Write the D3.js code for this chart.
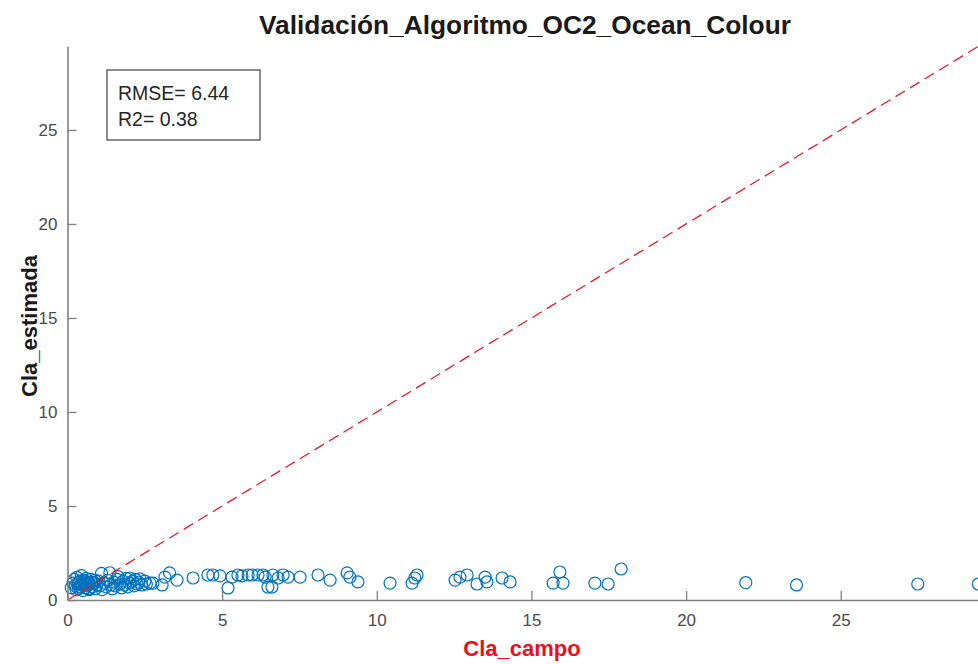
<!DOCTYPE html>
<html>
<head>
<meta charset="utf-8">
<script src="https://cdn.jsdelivr.net/npm/d3@7"></script>
<style>
  html, body { margin: 0; padding: 0; background: #fff; }
  svg { display: block; font-family: "Liberation Sans", Arial, Helvetica, sans-serif; }
</style>
</head>
<body>
<svg id="chart" width="978" height="664"></svg>
<script>
// ---- Data ----
const titleText = "Validación_Algoritmo_OC2_Ocean_Colour";
const xLabel = "Cla_campo";
const yLabel = "Cla_estimada";
const statsLines = ["RMSE= 6.44", "R2= 0.38"];
const axisMax = 29.45;
const xTicks = [0, 5, 10, 15, 20, 25];
const yTicks = [0, 5, 10, 15, 20, 25];

// field chlorophyll (x) and estimated chlorophyll (y)
const claCampo = [
  0.12,0.18,0.22,0.25,0.28,0.30,0.33,0.36,0.40,0.42,0.45,0.48,0.50,0.52,0.55,0.58,0.60,0.63,0.66,0.70,
  0.72,0.75,0.80,0.85,0.90,0.95,1.00,1.05,1.10,1.12,1.18,1.25,1.30,1.37,1.40,1.45,1.50,1.55,1.60,1.63,
  1.70,1.75,1.80,1.85,1.90,1.95,2.00,2.02,2.10,2.15,2.20,2.25,2.30,2.34,2.40,2.50,2.55,2.67,
  0.35,0.38,0.44,0.56,0.62,0.68,0.78,0.88,
  2.76,3.06,3.15,3.30,3.54,4.06,4.54,4.70,4.93,5.19,5.32,5.51,5.64,5.84,5.97,6.16,6.39,6.48,
  6.32,6.64,6.61,6.81,6.97,7.13,7.52,8.10,8.49,9.04,9.13,9.39,
  10.43,11.14,11.23,11.30,12.53,12.69,12.92,13.24,13.50,13.56,14.05,14.31,
  15.70,15.92,16.02,17.05,17.48,17.90,21.93,23.57,27.49,29.45
];
const claEstimada = [
  0.65,0.90,1.10,0.75,0.55,1.20,0.85,0.60,1.00,0.70,1.30,0.80,0.50,1.05,0.90,0.65,1.15,0.75,0.95,0.55,
  0.85,1.10,0.70,0.90,0.60,0.80,1.00,0.75,1.42,0.55,0.90,0.70,1.05,1.45,0.80,0.60,0.95,0.75,1.10,1.24,
  0.85,0.65,1.00,0.80,1.15,0.70,0.90,1.17,1.00,0.75,1.10,0.85,0.95,1.12,0.80,1.00,0.85,0.90,
  0.95,0.70,0.85,1.00,0.80,0.60,0.95,1.05,
  0.90,0.80,1.22,1.44,1.06,1.17,1.33,1.33,1.28,0.64,1.22,1.33,1.28,1.33,1.33,1.33,1.22,0.69,
  1.33,1.33,0.69,1.17,1.33,1.22,1.22,1.33,1.06,1.44,1.22,0.96,
  0.90,0.90,1.17,1.33,1.06,1.22,1.33,0.85,1.22,0.96,1.17,0.96,
  0.90,1.49,0.90,0.90,0.85,1.65,0.92,0.80,0.85,0.85
];

// ---- Layout ----
const svg = d3.select("#chart");
const plotLeft = 67.5, plotRight = 978.4, plotTop = 46.3, plotBottom = 600;

const x = d3.scaleLinear().domain([0, axisMax]).range([plotLeft, plotRight]);
const y = d3.scaleLinear().domain([0, axisMax]).range([plotBottom, plotTop]);

const axisColor = "#808080";
const labelColor = "#4a4a4a";

// points
const pts = claCampo.map((v, i) => [v, claEstimada[i]]);
svg.append("g")
  .selectAll("circle")
  .data(pts)
  .enter().append("circle")
  .attr("cx", d => x(d[0]))
  .attr("cy", d => y(d[1]))
  .attr("r", 6)
  .attr("fill", "none")
  .attr("stroke", "#0072BD")
  .attr("stroke-width", 1.2);

// 1:1 line
svg.append("line")
  .attr("x1", x(0)).attr("y1", y(0))
  .attr("x2", x(axisMax)).attr("y2", y(axisMax))
  .attr("stroke", "#e8192c")
  .attr("stroke-width", 1.3)
  .attr("stroke-dasharray", "11,6");

// axes
const xAxis = d3.axisBottom(x).tickValues(xTicks).tickSizeInner(-9).tickSizeOuter(0).tickFormat(d3.format("d"));
const yAxis = d3.axisLeft(y).tickValues(yTicks).tickSizeInner(-9).tickSizeOuter(0).tickFormat(d3.format("d"));

const gx = svg.append("g").attr("transform", `translate(0,${plotBottom})`).call(xAxis);
const gy = svg.append("g").attr("transform", `translate(${plotLeft},0)`).call(yAxis);

[gx, gy].forEach(g => {
  g.select(".domain").attr("stroke", axisColor).attr("stroke-width", 1.6);
  g.selectAll(".tick line").attr("stroke", axisColor).attr("stroke-width", 1.3);
  g.selectAll(".tick text")
    .attr("fill", labelColor)
    .attr("font-size", 17)
    .attr("font-family", "Liberation Sans, Arial, sans-serif");
});
gx.selectAll(".tick text").attr("y", 14).attr("dy", "0.71em");
gy.selectAll(".tick text").attr("x", -10).attr("dy", "0.35em");

// title
svg.append("text")
  .attr("x", 525).attr("y", 34)
  .attr("text-anchor", "middle")
  .attr("font-size", 26.3)
  .attr("font-weight", "bold")
  .attr("fill", "#1a1a1a")
  .text(titleText);

// x label
svg.append("text")
  .attr("x", 522).attr("y", 656)
  .attr("text-anchor", "middle")
  .attr("font-size", 22)
  .attr("font-weight", "bold")
  .attr("fill", "#e8101e")
  .text(xLabel);

// y label
svg.append("text")
  .attr("transform", "translate(37,326) rotate(-90)")
  .attr("text-anchor", "middle")
  .attr("font-size", 22)
  .attr("font-weight", "bold")
  .attr("fill", "#1a1a1a")
  .text(yLabel);

// stats box
const box = svg.append("g");
box.append("rect")
  .attr("x", 107).attr("y", 70).attr("width", 153).attr("height", 70)
  .attr("fill", "#fff").attr("stroke", "#404040").attr("stroke-width", 1.2);
box.selectAll("text.stat")
  .data(statsLines)
  .enter().append("text")
  .attr("class", "stat")
  .attr("x", 118)
  .attr("y", (d, i) => 100 + i * 26)
  .attr("font-size", 19.5)
  .attr("fill", "#262626")
  .text(d => d);
</script>
</body>
</html>
